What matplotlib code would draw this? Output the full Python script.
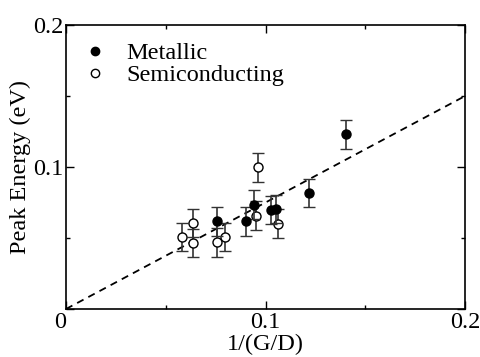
import numpy as np
import matplotlib.pyplot as plt
from matplotlib.lines import Line2D

plt.rcParams['font.family'] = ['Liberation Serif', 'DejaVu Serif']

# metallic tubes
met_x = [0.0755, 0.0902, 0.0943, 0.1027, 0.1052, 0.1217, 0.1405]
met_y = [0.0617, 0.0617, 0.0735, 0.0699, 0.0706, 0.0817, 0.1230]
met_err = [0.01] * len(met_x)

# semiconducting tubes
sem_x = [0.0580, 0.0638, 0.0638, 0.0755, 0.0797, 0.0952, 0.0960, 0.1060]
sem_y = [0.0507, 0.0606, 0.0465, 0.0469, 0.0507, 0.0657, 0.0997, 0.0601]
sem_err = [0.01] * len(sem_x)

# linear fit through origin
fit_x = [0.0, 0.2]
fit_slope = 0.75

FS = 17.5

fig = plt.figure(figsize=(4.8, 3.57), dpi=100)
ax = fig.add_axes([0.1375, 0.1345, 0.8315, 0.7955])

ax.plot(fit_x, np.array(fit_x) * fit_slope, ls=(0, (4, 3)), c='k', lw=1.3, zorder=1)

ax.errorbar(sem_x, sem_y, yerr=sem_err, fmt='o', mfc='white', mec='k', mew=1.0,
            ms=6.5, ecolor='#333333', elinewidth=1.2, capsize=4, capthick=1.2, zorder=2)
ax.errorbar(met_x, met_y, yerr=met_err, fmt='o', mfc='k', mec='k', mew=1.0,
            ms=6.5, ecolor='#333333', elinewidth=1.2, capsize=4, capthick=1.2, zorder=3)

ax.set_xlim(0, 0.2)
ax.set_ylim(0, 0.2)
ax.set_xticks([0, 0.1, 0.2])
ax.set_xticklabels(['0', '0.1', '0.2'])
ax.set_yticks([0, 0.1, 0.2])
ax.set_yticklabels(['', '0.1', '0.2'])
ax.set_xticks([0.05, 0.15], minor=True)
ax.set_yticks([0.05, 0.15], minor=True)
ax.tick_params(which='both', direction='in', top=True, right=True, labelsize=FS, width=1.0)
ax.tick_params(which='major', length=6)
ax.tick_params(which='minor', length=3)
ax.tick_params(axis='x', pad=2)
ax.tick_params(axis='y', pad=2)
ax.get_xticklabels()[0].set_horizontalalignment('right')
for s in ax.spines.values():
    s.set_linewidth(1.2)

ax.set_xlabel('1/(G/D)', fontsize=FS, labelpad=1)
ax.set_ylabel('Peak Energy (eV)', fontsize=FS, labelpad=1)

handles = [Line2D([], [], ls='none', marker='o', ms=6, mfc='k', mec='k'),
           Line2D([], [], ls='none', marker='o', ms=6, mfc='white', mec='k')]
ax.legend(handles, ['Metallic', 'Semiconducting'], loc='upper left', frameon=False,
          fontsize=FS, handlelength=1.0, handletextpad=0.8, labelspacing=0.0,
          borderaxespad=0.3, borderpad=0.4)

plt.savefig('out.png', dpi=100)
